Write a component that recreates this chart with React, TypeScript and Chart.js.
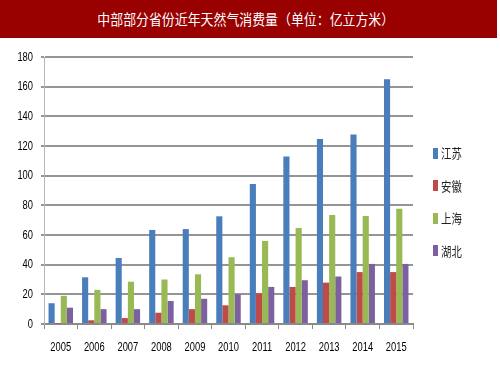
import React, { useEffect, useRef } from "react";
import { Chart, registerables } from "chart.js";

Chart.register(...registerables);

const title = "中部部分省份近年天然气消费量（单位：亿立方米）";
const years = ["2005", "2006", "2007", "2008", "2009", "2010", "2011", "2012", "2013", "2014", "2015"];
const seriesNames = ["江苏", "安徽", "上海", "湖北"];
const seriesColors = ["#4a7ebb", "#be4b48", "#98b954", "#7d60a0"];
const jiangsu = [14, 31.5, 44.5, 63.4, 64, 72.6, 94.4, 113, 124.7, 127.7, 165];
const anhui = [0.3, 2.5, 4, 7.6, 10, 12.6, 20.7, 25, 27.9, 35, 35];
const shanghai = [19, 23, 28.5, 30, 33.5, 45, 56, 64.7, 73.5, 72.8, 77.7];
const hubei = [11, 10, 10, 15.5, 17, 20, 25, 29.5, 32, 40.5, 40.5];
const seriesValues = [jiangsu, anhui, shanghai, hubei];
const yMin = 0;
const yMax = 180;
const yStep = 20;

const labelFont = "13px 'Liberation Sans', Arial, sans-serif";
const labelScaleX = 0.72;

// Draws the scales' own tick labels with a narrow (horizontally condensed) face
const narrowTicks = {
  id: "narrowTicks",
  afterDraw(chart: any) {
    const ctx = chart.ctx as CanvasRenderingContext2D;
    const xs = chart.scales.x;
    const ys = chart.scales.y;
    ctx.save();
    ctx.font = labelFont;
    ctx.fillStyle = "#000";
    ctx.textBaseline = "middle";
    ctx.textAlign = "center";
    xs.ticks.forEach((t: any, i: number) => {
      const x = xs.getPixelForTick(i);
      const y = xs.top + 23;
      ctx.save();
      ctx.translate(x, y);
      ctx.scale(labelScaleX, 1);
      ctx.fillText(String(t.label), 0, 0);
      ctx.restore();
    });
    ctx.textAlign = "right";
    ys.ticks.forEach((t: any, i: number) => {
      const y = ys.getPixelForTick(i);
      const x = ys.right - 11;
      ctx.save();
      ctx.translate(x, y);
      ctx.scale(labelScaleX, 1);
      ctx.fillText(String(t.label), 0, 0);
      ctx.restore();
    });
    ctx.restore();
  },
};

export default function App() {
  const canvasRef = useRef<HTMLCanvasElement | null>(null);

  useEffect(() => {
    const canvas = canvasRef.current;
    if (!canvas) return;
    const chart = new Chart(canvas, {
      type: "bar",
      data: {
        labels: years,
        datasets: seriesNames.map((name, i) => ({
          label: name,
          data: seriesValues[i],
          backgroundColor: seriesColors[i],
          borderWidth: 0,
          barPercentage: 1,
          categoryPercentage: 0.73,
        })),
      },
      options: {
        animation: false,
        responsive: false,
        maintainAspectRatio: false,
        devicePixelRatio: 1,
        layout: { padding: { left: 0, right: 87, top: 18, bottom: 0 } },
        plugins: {
          legend: { display: false },
          tooltip: { enabled: false },
          title: { display: false },
        },
        scales: {
          x: {
            grid: {
              display: true,
              drawOnChartArea: false,
              drawTicks: true,
              tickLength: 5,
              color: "#8a8a8a",
              lineWidth: 1,
              offset: true,
            },
            border: { display: true, color: "#8a8a8a", width: 2 },
            ticks: { display: false, maxRotation: 0 },
            afterFit: (scale: any) => {
              scale.height = 51;
            },
          },
          y: {
            min: yMin,
            max: yMax,
            grid: {
              color: "#959595",
              lineWidth: 2,
              tickLength: 3,
              drawTicks: true,
            },
            border: { display: true, color: "#b5b5b5", width: 1 },
            ticks: { stepSize: yStep, display: false },
            afterFit: (scale: any) => {
              scale.width = 44;
            },
          },
        },
      },
      plugins: [narrowTicks],
    });
    return () => chart.destroy();
  }, []);

  return (
    <div style={{ position: "absolute", left: 0, top: 0, width: 500, height: 375, background: "#fff", overflow: "hidden" }}>
      <div
        style={{
          position: "absolute",
          left: 0,
          top: 0,
          width: 497,
          height: 38,
          background: "#990000",
          display: "flex",
          alignItems: "center",
          justifyContent: "center",
          paddingRight: 6,
          boxSizing: "border-box",
        }}
      >
        <span
          style={{
            display: "inline-block",
            color: "#fff",
            fontFamily: "'Noto Sans CJK SC', sans-serif",
            fontSize: 14.5,
            lineHeight: "18px",
            whiteSpace: "nowrap",
            transform: "scaleX(0.89)",
            transformOrigin: "center center",
          }}
        >
          {title}
        </span>
      </div>
      <canvas ref={canvasRef} width={500} height={336} style={{ position: "absolute", left: 0, top: 39, width: 500, height: 336 }} />
      {seriesNames.map((name, i) => (
        <div
          key={name}
          style={{
            position: "absolute",
            left: 433,
            top: 153 + i * 32.5 - 8,
            height: 16,
            display: "flex",
            alignItems: "center",
          }}
        >
          <span style={{ display: "inline-block", width: 5, height: 11, background: seriesColors[i] }} />
          <span
            style={{
              display: "inline-block",
              marginLeft: 3,
              fontFamily: "'Noto Sans CJK SC', sans-serif",
              fontSize: 13,
              lineHeight: "16px",
              color: "#222",
              transform: "scaleX(0.8)",
              transformOrigin: "left center",
            }}
          >
            {name}
          </span>
        </div>
      ))}
    </div>
  );
}
